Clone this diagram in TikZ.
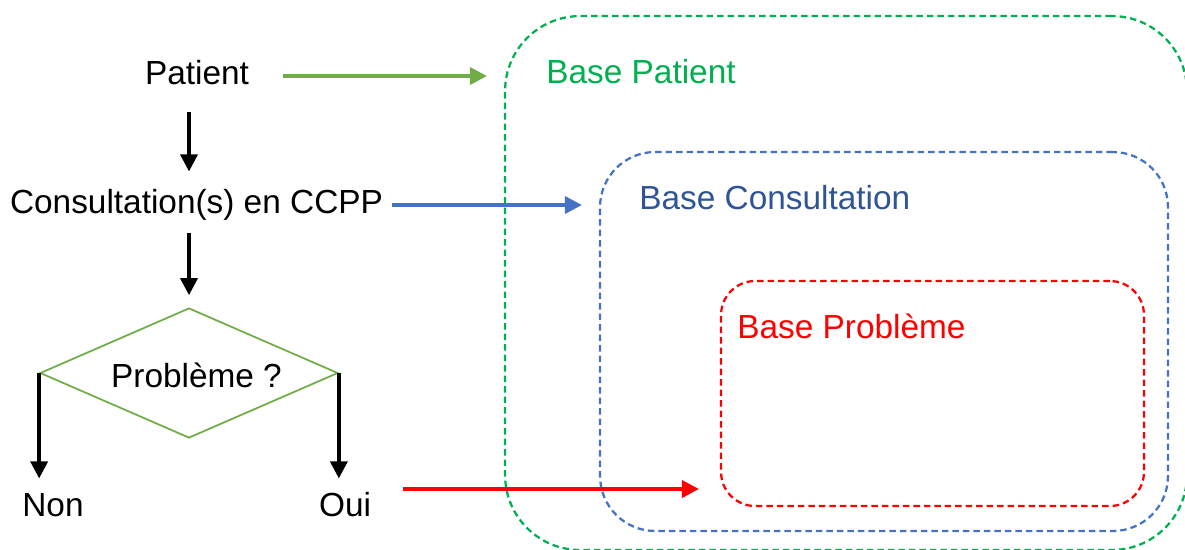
\documentclass[tikz,border=0pt]{standalone}
\usepackage{fontspec}
\setmainfont{Liberation Sans}
\usetikzlibrary{shapes.geometric,arrows.meta}
\definecolor{arrgreen}{HTML}{70AD47}
\definecolor{boxgreen}{HTML}{00B050}
\definecolor{arrblue}{HTML}{4472C4}
\definecolor{txtblue}{HTML}{2F5597}
\definecolor{boxred}{HTML}{FF0000}
\tikzset{
  txt/.style={font=\fontsize{19}{22}\selectfont,inner sep=0pt,text height=0.5cm,text depth=0.15cm},
  arr/.style={line width=0.07cm,-{Triangle[length=0.34cm,width=0.34cm]}},
  base/.style={draw,dashed,line width=0.045cm,dash pattern=on 0.13cm off 0.08cm,inner sep=0pt},
}
\begin{document}
\begin{tikzpicture}[x=0.02cm,y=-0.02cm]
\useasboundingbox (0,0) rectangle (1185,549);
% nested bases
\node[base,boxgreen,rounded corners=1.5cm,minimum width=13.64cm,minimum height=10.68cm] (bpatient) at (846,283) {};
\node[base,arrblue,rounded corners=1.1cm,minimum width=11.36cm,minimum height=7.58cm] (bconsult) at (884,341.5) {};
\node[base,boxred,rounded corners=0.68cm,minimum width=8.46cm,minimum height=4.5cm] (bprob) at (932.5,393.5) {};
\node[txt,anchor=west,boxgreen] (lpatient) at (546,75) {Base Patient};
\node[txt,anchor=west,txtblue] (lconsult) at (639,201) {Base Consultation};
\node[txt,anchor=west,boxred] (lprob) at (737,330) {Base Problème};
% flow
\node[txt] (patient) at (197,76) {Patient};
\node[txt] (consult) at (196.5,205) {Consultation(s) en CCPP};
\node[draw=arrgreen,line width=0.035cm,diamond,aspect=2.29,minimum width=5.96cm,minimum height=2.6cm,inner sep=1pt] (dia) at (189,373) {};
\node[txt] (qprob) at (196.5,379) {Problème ?};
\node[txt] (non) at (53,508) {Non};
\node[txt] (oui) at (345,508) {Oui};
\draw[arr,shorten <=0.38cm,shorten >=0.34cm] (dia.north |- patient.south) -- (dia.north |- consult.north);
\draw[arr,shorten <=0.22cm,shorten >=0.24cm] (dia.north |- consult.south) -- (dia.north);
\draw[arr,shorten >=0.26cm] (dia.west) -- (dia.west |- non.north);
\draw[arr,shorten >=0.26cm] (dia.east) -- (dia.east |- oui.north);
% links to bases
\draw[arr,arrgreen,shorten <=0.68cm,shorten >=0.34cm] (patient.east) -- (patient.east -| bpatient.west);
\draw[arr,arrblue,shorten <=0.18cm,shorten >=0.34cm] (consult.east) -- (consult.east -| bconsult.west);
\coordinate (redstart) at ([yshift=0.38cm]oui.east);
\draw[arr,boxred,shorten <=0.64cm,shorten >=0.42cm] (redstart) -- (redstart -| bprob.west);
\end{tikzpicture}
\end{document}
